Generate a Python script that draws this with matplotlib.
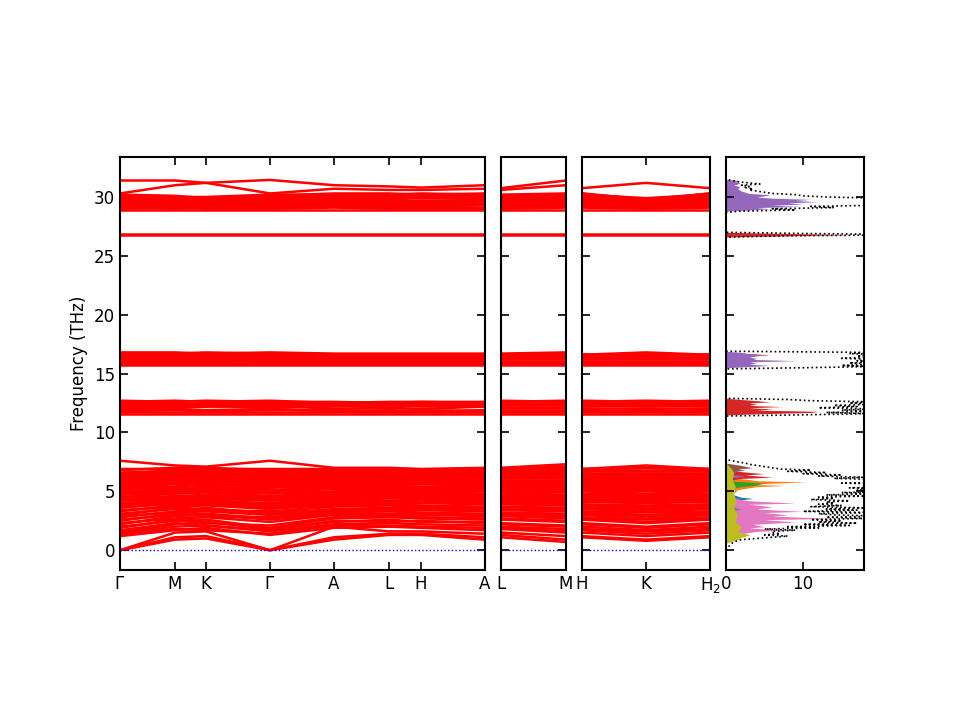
import matplotlib
matplotlib.use("Agg")
import matplotlib.pyplot as plt

# path distances of the high-symmetry points, one list per panel
path_x = [
    [0.0, 0.55, 0.86, 1.50, 2.14, 2.69, 3.01, 3.65],
    [0.0, 0.65],
    [0.0, 0.64, 1.28],
]
path_labels = [
    ["$\\Gamma$", "M", "K", "$\\Gamma$", "A", "L", "H", "A"],
    ["L", "M"],
    ["H", "K", "H$_2$"],
]

# band frequencies (THz) at: G M K G A L H A | L M | H K H2
bands_low = [
    [0.0, 0.9, 1.0, 0.0, 0.9, 1.3, 1.3, 0.9, 1.1, 0.7, 1.1, 0.8, 1.1],
    [0.0, 1.1, 1.2, 0.0, 1.1, 1.4, 1.4, 1.1, 1.3, 0.9, 1.2, 0.9, 1.2],
    [0.0, 1.5, 1.6, 0.0, 2.0, 1.6, 1.6, 1.4, 1.5, 1.2, 1.5, 1.2, 1.5],
    [1.2, 1.7, 1.9, 1.3, 1.9, 2.0, 1.9, 1.7, 1.8, 1.5, 1.7, 1.4, 1.7],
    [1.3, 1.8, 1.7, 1.4, 2.1, 2.1, 2.0, 1.9, 1.9, 1.6, 1.8, 1.6, 1.8],
    [1.4, 2.0, 2.1, 1.6, 2.2, 2.3, 2.2, 2.1, 2.0, 1.8, 2.0, 1.7, 2.0],
    [1.5, 2.2, 2.4, 1.8, 2.4, 2.6, 2.4, 2.4, 2.2, 2.0, 2.2, 1.9, 2.2],
    [1.7, 2.3, 2.1, 1.7, 2.5, 2.4, 2.5, 2.3, 2.3, 2.1, 2.3, 2.0, 2.3],
    [1.9, 2.6, 2.3, 2.1, 2.8, 2.9, 2.8, 2.7, 2.7, 2.5, 2.7, 2.4, 2.7],
    [2.0, 2.5, 2.6, 1.9, 2.7, 2.8, 2.7, 2.6, 2.6, 2.4, 2.6, 2.3, 2.6],
    [2.2, 2.9, 3.0, 2.6, 3.1, 3.1, 3.1, 3.0, 3.0, 2.9, 3.0, 2.7, 3.0],
    [2.3, 2.7, 2.8, 2.4, 3.0, 3.0, 3.0, 2.9, 2.9, 2.7, 2.8, 2.6, 2.8],
    [2.5, 3.1, 2.9, 2.8, 3.3, 3.4, 3.4, 3.3, 3.2, 3.1, 3.2, 3.0, 3.2],
    [2.6, 3.0, 3.1, 2.7, 3.2, 3.3, 3.2, 3.1, 3.1, 3.0, 3.1, 2.9, 3.1],
    [2.8, 3.3, 3.6, 3.1, 3.5, 3.6, 3.6, 3.5, 3.5, 3.4, 3.5, 3.3, 3.5],
    [2.9, 3.2, 3.3, 3.0, 3.4, 3.5, 3.5, 3.4, 3.4, 3.3, 3.3, 3.2, 3.3],
    [3.0, 3.6, 3.5, 3.2, 3.8, 3.9, 3.8, 3.7, 3.7, 3.6, 3.7, 3.6, 3.7],
    [3.1, 3.5, 3.4, 3.3, 3.7, 3.8, 3.7, 3.6, 3.6, 3.5, 3.6, 3.5, 3.6],
    [3.3, 3.8, 3.9, 3.6, 4.0, 4.1, 4.1, 4.0, 4.0, 3.9, 3.9, 3.8, 3.9],
    [3.4, 3.7, 3.8, 3.5, 3.9, 4.0, 4.0, 3.9, 3.9, 3.8, 3.8, 3.7, 3.8],
    [3.6, 4.0, 4.0, 3.7, 4.2, 4.4, 4.4, 4.2, 4.2, 4.1, 4.2, 4.1, 4.2],
    [3.7, 3.9, 4.1, 3.8, 4.1, 4.2, 4.3, 4.1, 4.1, 4.0, 4.1, 4.0, 4.1],
    [3.8, 4.1, 4.3, 3.9, 4.3, 4.6, 4.7, 4.3, 4.3, 4.2, 4.4, 4.3, 4.4],
    [3.9, 4.2, 4.2, 4.0, 4.4, 4.5, 4.5, 4.4, 4.4, 4.3, 4.3, 4.2, 4.3],
    [4.0, 4.3, 4.4, 4.2, 4.5, 4.8, 4.8, 4.5, 4.5, 4.4, 4.5, 4.4, 4.5],
    [4.2, 4.4, 4.5, 4.3, 4.6, 4.7, 4.6, 4.6, 4.6, 4.5, 4.6, 4.5, 4.6],
    [4.3, 4.5, 4.6, 4.4, 4.7, 4.9, 4.9, 4.7, 4.7, 4.6, 4.7, 4.6, 4.7],
    [4.4, 4.6, 4.7, 4.5, 4.8, 5.0, 5.0, 4.8, 4.9, 4.7, 4.8, 4.7, 4.8],
    [4.5, 4.8, 4.9, 4.6, 4.9, 5.1, 5.1, 5.0, 5.0, 4.9, 5.0, 4.8, 5.0],
    [4.7, 4.9, 5.0, 4.8, 5.0, 5.2, 5.2, 5.1, 5.1, 5.0, 5.1, 5.0, 5.1],
    [4.8, 5.0, 5.1, 4.9, 5.2, 5.2, 5.3, 5.2, 5.2, 5.1, 5.2, 5.1, 5.2],
    [4.9, 5.1, 5.2, 5.0, 5.3, 5.3, 5.3, 5.3, 5.3, 5.2, 5.3, 5.2, 5.3],
    [5.0, 5.2, 5.4, 5.1, 5.4, 5.4, 5.4, 5.4, 5.4, 5.3, 5.4, 5.3, 5.4],
    [5.2, 5.3, 5.3, 5.3, 5.5, 5.5, 5.6, 5.5, 5.5, 5.4, 5.5, 5.4, 5.5],
    [5.3, 5.4, 5.6, 5.4, 5.6, 5.6, 5.7, 5.6, 5.6, 5.5, 5.6, 5.5, 5.6],
    [5.4, 5.6, 5.5, 5.5, 5.7, 5.7, 5.8, 5.7, 5.7, 5.6, 5.7, 5.6, 5.7],
    [5.5, 5.7, 5.7, 5.6, 5.8, 5.8, 5.9, 5.8, 5.8, 5.8, 5.8, 5.7, 5.8],
    [5.6, 5.8, 5.8, 5.7, 5.9, 5.9, 6.0, 5.9, 5.9, 5.9, 5.9, 5.8, 5.9],
    [5.7, 5.9, 5.9, 5.8, 6.0, 6.0, 6.0, 6.0, 6.0, 6.0, 6.0, 5.9, 6.0],
    [5.8, 6.0, 6.0, 5.9, 6.1, 6.1, 6.1, 6.1, 6.1, 6.1, 6.1, 6.0, 6.1],
    [5.9, 6.1, 6.1, 6.0, 6.2, 6.2, 6.2, 6.2, 6.2, 6.2, 6.2, 6.1, 6.2],
    [6.0, 6.2, 6.2, 6.1, 6.3, 6.3, 6.3, 6.3, 6.3, 6.3, 6.3, 6.2, 6.3],
    [6.1, 6.3, 6.3, 6.2, 6.4, 6.4, 6.4, 6.4, 6.4, 6.4, 6.4, 6.3, 6.4],
    [6.2, 6.4, 6.4, 6.3, 6.5, 6.5, 6.5, 6.5, 6.5, 6.5, 6.5, 6.4, 6.5],
    [6.3, 6.5, 6.6, 6.4, 6.5, 6.6, 6.5, 6.6, 6.5, 6.6, 6.5, 6.5, 6.5],
    [6.4, 6.6, 6.5, 6.5, 6.6, 6.7, 6.6, 6.7, 6.6, 6.7, 6.6, 6.6, 6.6],
    [6.5, 6.8, 6.8, 6.6, 6.7, 6.7, 6.7, 6.7, 6.7, 6.8, 6.7, 6.7, 6.7],
    [6.6, 6.7, 6.7, 6.7, 6.8, 6.8, 6.7, 6.8, 6.8, 6.9, 6.8, 6.8, 6.8],
    [6.8, 7.0, 7.0, 6.8, 6.9, 6.8, 6.8, 6.9, 6.9, 7.1, 6.8, 7.0, 6.8],
    [6.9, 6.9, 6.9, 6.9, 6.9, 6.9, 6.8, 6.9, 6.9, 7.0, 6.9, 7.0, 6.9],
    [7.6, 7.2, 7.1, 7.6, 7.0, 7.0, 6.9, 7.0, 7.0, 7.3, 6.9, 7.2, 6.9],
]
bands_12 = [
    [12.7, 12.6, 12.7, 12.6, 12.6, 12.5, 12.6, 12.5, 12.7, 12.6, 12.7, 12.6, 12.7],
    [12.6, 12.7, 12.6, 12.7, 12.5, 12.6, 12.6, 12.6, 12.6, 12.7, 12.6, 12.7, 12.6],
    [12.5, 12.5, 12.4, 12.4, 12.5, 12.5, 12.4, 12.5, 12.4, 12.4, 12.5, 12.4, 12.5],
    [12.4, 12.3, 12.5, 12.5, 12.4, 12.4, 12.5, 12.4, 12.5, 12.5, 12.4, 12.5, 12.4],
    [12.3, 12.4, 12.2, 12.2, 12.3, 12.3, 12.2, 12.3, 12.3, 12.3, 12.3, 12.2, 12.3],
    [12.2, 12.2, 12.3, 12.1, 12.2, 12.2, 12.3, 12.2, 12.2, 12.2, 12.2, 12.3, 12.2],
    [12.1, 12.1, 12.2, 12.3, 12.0, 12.1, 12.0, 12.2, 12.1, 12.1, 12.1, 12.1, 12.1],
    [11.9, 12.0, 11.9, 12.0, 11.8, 11.9, 11.8, 11.9, 11.8, 11.8, 11.9, 11.8, 11.9],
    [11.8, 11.9, 11.8, 11.9, 11.9, 11.8, 11.9, 11.8, 11.9, 11.9, 11.8, 11.9, 11.8],
    [11.7, 11.7, 11.7, 11.7, 11.7, 11.7, 11.7, 11.7, 11.7, 11.7, 11.7, 11.7, 11.7],
    [11.6, 11.6, 11.6, 11.6, 11.6, 11.6, 11.6, 11.6, 11.6, 11.6, 11.6, 11.6, 11.6],
]
bands_16 = [
    [16.8, 16.8, 16.7, 16.8, 16.7, 16.7, 16.7, 16.7, 16.7, 16.8, 16.7, 16.7, 16.7],
    [16.7, 16.7, 16.8, 16.7, 16.6, 16.6, 16.6, 16.6, 16.6, 16.7, 16.6, 16.8, 16.6],
    [16.6, 16.5, 16.5, 16.5, 16.4, 16.5, 16.5, 16.5, 16.6, 16.6, 16.6, 16.5, 16.6],
    [16.5, 16.6, 16.6, 16.6, 16.5, 16.5, 16.5, 16.5, 16.5, 16.5, 16.5, 16.6, 16.5],
    [16.4, 16.4, 16.4, 16.4, 16.3, 16.4, 16.4, 16.4, 16.4, 16.4, 16.4, 16.4, 16.4],
    [16.3, 16.2, 16.3, 16.3, 16.4, 16.3, 16.3, 16.3, 16.3, 16.3, 16.3, 16.3, 16.3],
    [16.2, 16.3, 16.2, 16.2, 16.2, 16.2, 16.2, 16.2, 16.2, 16.2, 16.2, 16.2, 16.2],
    [16.1, 16.1, 16.0, 16.1, 16.1, 16.1, 16.1, 16.1, 16.1, 16.1, 16.1, 16.1, 16.1],
    [16.0, 16.0, 16.1, 16.0, 16.0, 16.0, 16.0, 16.0, 16.0, 16.0, 16.0, 16.0, 16.0],
    [15.9, 15.9, 15.9, 15.8, 15.9, 15.9, 15.9, 15.9, 15.8, 15.9, 15.9, 15.9, 15.9],
    [15.8, 15.8, 15.8, 15.9, 15.8, 15.8, 15.8, 15.8, 15.9, 15.8, 15.8, 15.8, 15.8],
    [15.7, 15.7, 15.7, 15.7, 15.7, 15.7, 15.7, 15.7, 15.7, 15.7, 15.7, 15.7, 15.7],
]
bands_27 = [
    [26.85, 26.85, 26.85, 26.85, 26.85, 26.85, 26.85, 26.85, 26.85, 26.85, 26.85, 26.85, 26.85],
    [26.75, 26.75, 26.75, 26.75, 26.75, 26.75, 26.75, 26.75, 26.75, 26.75, 26.75, 26.75, 26.75],
]
bands_30 = [
    [31.4, 31.4, 31.2, 30.3, 30.7, 30.6, 30.6, 30.7, 30.6, 31.0, 30.3, 29.7, 30.3],
    [30.3, 31.0, 31.2, 31.45, 31.0, 30.9, 30.8, 31.0, 30.75, 31.4, 30.75, 31.2, 30.75],
    [30.2, 30.1, 29.9, 30.1, 30.3, 30.3, 30.2, 30.3, 30.2, 30.3, 30.3, 29.8, 30.3],
    [30.1, 30.0, 30.0, 30.2, 30.2, 30.2, 30.3, 30.2, 30.1, 30.2, 30.2, 29.9, 30.2],
    [30.0, 29.9, 29.8, 30.0, 30.1, 30.1, 30.1, 30.1, 30.0, 30.1, 30.1, 29.7, 30.1],
    [29.9, 29.7, 29.9, 29.9, 30.0, 30.0, 30.0, 30.0, 29.9, 30.0, 30.0, 29.8, 30.0],
    [29.8, 29.8, 29.7, 29.8, 29.9, 29.8, 29.9, 29.9, 29.8, 29.9, 29.9, 29.6, 29.9],
    [29.7, 29.7, 29.5, 29.7, 29.8, 29.7, 29.6, 29.8, 29.7, 29.8, 29.8, 29.5, 29.8],
    [29.6, 29.6, 29.6, 29.6, 29.7, 29.6, 29.7, 29.7, 29.6, 29.7, 29.7, 29.5, 29.7],
    [29.5, 29.5, 29.5, 29.5, 29.6, 29.5, 29.5, 29.6, 29.5, 29.6, 29.6, 29.4, 29.6],
    [29.4, 29.4, 29.4, 29.4, 29.5, 29.4, 29.4, 29.5, 29.4, 29.5, 29.5, 29.3, 29.5],
    [29.3, 29.2, 29.3, 29.3, 29.4, 29.3, 29.3, 29.4, 29.3, 29.4, 29.4, 29.3, 29.4],
    [29.2, 29.3, 29.2, 29.2, 29.3, 29.2, 29.2, 29.3, 29.2, 29.3, 29.3, 29.2, 29.3],
    [29.1, 29.0, 29.1, 29.1, 29.2, 29.1, 29.1, 29.1, 29.1, 29.2, 29.2, 29.1, 29.2],
    [29.0, 29.1, 29.0, 29.0, 29.1, 29.0, 29.0, 29.0, 29.0, 29.1, 29.1, 29.0, 29.1],
    [28.9, 28.9, 28.9, 28.9, 28.9, 28.9, 28.9, 28.9, 28.9, 28.9, 28.9, 28.9, 28.9],
]

# total DOS
dos_freq = [0.0, 0.1, 0.2, 0.3, 0.4, 0.5, 0.6, 0.7, 0.8, 0.9,
            1.0, 1.1, 1.2, 1.3, 1.4, 1.5, 1.6, 1.7, 1.8, 1.9,
            2.0, 2.1, 2.2, 2.3, 2.4, 2.5, 2.6, 2.7, 2.8, 2.9,
            3.0, 3.1, 3.2, 3.3, 3.4, 3.5, 3.6, 3.7, 3.8, 3.9,
            4.0, 4.1, 4.2, 4.3, 4.4, 4.5, 4.6, 4.7, 4.8, 4.9,
            5.0, 5.1, 5.2, 5.3, 5.4, 5.5, 5.6, 5.7, 5.8, 5.9,
            6.0, 6.1, 6.2, 6.3, 6.4, 6.5, 6.6, 6.7, 6.8, 6.9,
            7.0, 7.1, 7.2, 7.3, 7.4, 7.5, 7.6, 7.7,
            11.4, 11.5, 11.6, 11.7, 11.8, 11.9, 12.0, 12.1, 12.2, 12.3,
            12.4, 12.5, 12.6, 12.7, 12.8, 12.9,
            15.4, 15.5, 15.6, 15.7, 15.8, 15.9, 16.0, 16.1, 16.2, 16.3,
            16.4, 16.5, 16.6, 16.7, 16.8, 16.9,
            26.6, 26.7, 26.8, 26.9, 27.0,
            28.7, 28.8, 28.9, 29.0, 29.1, 29.2, 29.3, 29.4, 29.5, 29.6,
            29.7, 29.8, 29.9, 30.0, 30.1, 30.2, 30.3, 30.4, 30.5, 30.6,
            30.7, 30.8, 30.9, 31.0, 31.1, 31.2, 31.3, 31.4, 31.5]
dos_total = [0, 0.1, 0.2, 0.3, 0.5, 0.6, 0.8, 1.0, 1.5, 2,
             4, 6, 8, 5, 7, 6, 6, 9, 5, 12,
             8, 16, 10, 17, 12, 15, 11, 18, 13, 20,
             14, 12, 19, 10, 17, 13, 18, 11, 15, 12,
             14, 13, 16, 11, 14, 12, 18, 13, 20, 15,
             22, 17, 21, 16, 23, 18, 22, 15, 24, 19,
             20, 14, 18, 12, 15, 10, 13, 8, 11, 7,
             6, 5, 4, 3, 2.5, 1.5, 0.8, 0,
             0, 10, 19, 13, 20, 15, 19, 12, 17, 14,
             19, 16, 19, 11, 8, 0,
             0, 10, 19, 15, 20, 16, 19, 17, 20, 15,
             19, 17, 20, 16, 19, 0,
             0, 8, 25, 10, 0,
             0, 2, 9, 6, 14, 11, 20, 18, 22, 19,
             21, 18, 20, 13, 10, 9, 6, 5, 4, 3,
             3.5, 2.5, 3, 2, 4.4, 3, 1.5, 0.8, 0]

# partial DOS (frequency list, value list) per projection, tab10 order
pdos_blue_f = [3.9, 4.2, 4.4, 4.5, 4.7, 5.0, 11.6, 11.75, 11.9]
pdos_blue_v = [0, 1.0, 3.5, 2.0, 1.0, 0, 0, 12.2, 0]
pdos_orange_f = [4.9, 5.2, 5.4, 5.5, 5.6, 5.7, 5.8, 5.9, 6.0, 6.2]
pdos_orange_v = [0, 2.0, 4.0, 7.7, 3.0, 6.0, 10.5, 4.0, 3.0, 0]
pdos_green_f = [2.3, 2.6, 2.9, 5.2, 5.4, 5.5, 5.7, 5.9, 11.6, 11.9, 12.2]
pdos_green_v = [0, 2.5, 0, 0, 2.0, 3.5, 5.0, 0, 0, 1.5, 0]
pdos_red_f = [5.9, 6.1, 6.2, 6.4, 6.5, 6.8, 11.5, 11.6, 11.7, 11.8, 11.9, 12.0, 12.1,
              12.2, 12.3, 12.4, 12.5, 12.6, 12.7, 12.9,
              16.3, 16.5, 16.6, 16.8, 26.6, 26.8, 27.0, 29.3, 29.6, 29.8, 30.0, 30.2, 30.6]
pdos_red_v = [0, 2.0, 6.0, 2.5, 4.9, 0, 0, 5.0, 11.0, 11.8, 4.0, 6.0, 3.0,
              7.3, 3.0, 4.0, 3.0, 5.7, 4.0, 0,
              0, 3.0, 5.7, 0, 0, 16.3, 0, 0, 2.0, 3.5, 2.0, 2.5, 0]
pdos_purple_f = [4.2, 4.4, 4.6, 6.1, 6.3, 6.5, 15.5, 15.6, 15.7, 15.8, 15.9, 16.0,
                 16.1, 16.2, 16.3, 16.4, 16.5, 16.6, 16.7, 16.8, 16.9,
                 28.8, 28.9, 29.0, 29.1, 29.2, 29.3, 29.4, 29.5, 29.6, 29.7, 29.8,
                 29.9, 30.0, 30.1, 30.2, 30.3, 30.5, 30.7, 30.9, 31.0, 31.1, 31.2,
                 31.3, 31.4, 31.5]
pdos_purple_v = [0, 2.0, 0, 0, 2.5, 0, 0, 3.0, 5.7, 3.0, 4.0, 3.0,
                 9.2, 3.5, 4.0, 3.0, 4.0, 4.8, 3.0, 2.0, 0,
                 0, 3.0, 5.7, 4.0, 9.6, 6.0, 10.0, 8.0, 11.8, 9.0, 11.0,
                 6.0, 4.0, 5.0, 5.7, 3.0, 2.0, 1.5, 1.8, 1.0, 1.5, 1.8,
                 1.2, 1.8, 0]
pdos_brown_f = [6.6, 6.8, 6.9, 7.0, 7.2, 7.4]
pdos_brown_v = [0, 2.5, 1.5, 3.4, 2.0, 0]
pdos_pink_f = [1.1, 1.4, 1.6, 1.7, 1.9, 2.0, 2.2, 2.4, 2.6, 2.7, 2.9, 3.0,
               3.2, 3.3, 3.5, 3.7, 3.9, 4.0, 4.2, 4.3, 4.5]
pdos_pink_v = [0, 2.0, 4.0, 8.0, 3.0, 5.0, 3.5, 9.0, 5.0, 14.0, 6.0, 8.0,
               5.0, 10.0, 4.0, 6.0, 3.0, 9.0, 3.0, 2.0, 0]
pdos_gray_f = [3.2, 3.5, 3.8, 4.8, 5.0, 5.2]
pdos_gray_v = [0, 2.0, 0, 0, 1.5, 0]
pdos_olive_f = [0.6, 0.9, 1.1, 1.3, 1.6, 2.0, 2.4, 3.0, 3.6, 4.2, 4.8, 5.4, 6.0,
                6.6, 7.0, 7.4]
pdos_olive_v = [0, 1.5, 2.0, 3.1, 1.5, 2.0, 1.2, 1.5, 1.0, 1.3, 1.0, 1.2, 0.8,
                1.0, 0.6, 0]

pdos_sets = [
    (pdos_blue_f, pdos_blue_v, "tab:blue"),
    (pdos_orange_f, pdos_orange_v, "tab:orange"),
    (pdos_green_f, pdos_green_v, "tab:green"),
    (pdos_red_f, pdos_red_v, "tab:red"),
    (pdos_purple_f, pdos_purple_v, "tab:purple"),
    (pdos_brown_f, pdos_brown_v, "tab:brown"),
    (pdos_pink_f, pdos_pink_v, "tab:pink"),
    (pdos_gray_f, pdos_gray_v, "tab:gray"),
    (pdos_olive_f, pdos_olive_v, "tab:olive"),
]

plt.rcParams["font.size"] = 12

fig = plt.figure(figsize=(9.6, 7.2), dpi=100)
gs = fig.add_gridspec(1, 4, width_ratios=[365, 65, 128, 138], wspace=0.092,
                      left=0.125, right=0.9, top=0.782, bottom=0.208)
axes = [fig.add_subplot(gs[0, i]) for i in range(4)]

ylim = (-1.7, 33.4)
col_slices = [(0, 8), (8, 10), (10, 13)]
all_bands = bands_low + bands_12 + bands_16 + bands_27 + bands_30

for i in range(3):
    ax = axes[i]
    a, b = col_slices[i]
    for band in all_bands:
        ax.plot(path_x[i], band[a:b], color="r", lw=1.8)
    ax.axhline(0, color="b", ls=":", lw=1)
    ax.set_xlim(path_x[i][0], path_x[i][-1])
    ax.set_ylim(*ylim)
    ax.set_xticks(path_x[i])
    ax.set_xticklabels(path_labels[i])
    ax.set_yticks([0, 5, 10, 15, 20, 25, 30])
    if i > 0:
        ax.set_yticklabels([])

axes[0].set_ylabel("Frequency (THz)")

# DOS panel
dax = axes[3]
for f, v, c in pdos_sets:
    dax.fill_betweenx(f, 0, v, color=c, lw=0)
dax.plot(dos_total, dos_freq, "k:", lw=1.2)
dax.set_xlim(0, 17.9)
dax.set_ylim(*ylim)
dax.set_xticks([0, 10])
dax.set_yticks([0, 5, 10, 15, 20, 25, 30])
dax.set_yticklabels([])

for ax in axes:
    ax.tick_params(direction="in", top=True, right=True, length=6, width=1.2)
    for s in ax.spines.values():
        s.set_linewidth(1.5)

fig.savefig("out.png", dpi=100)
